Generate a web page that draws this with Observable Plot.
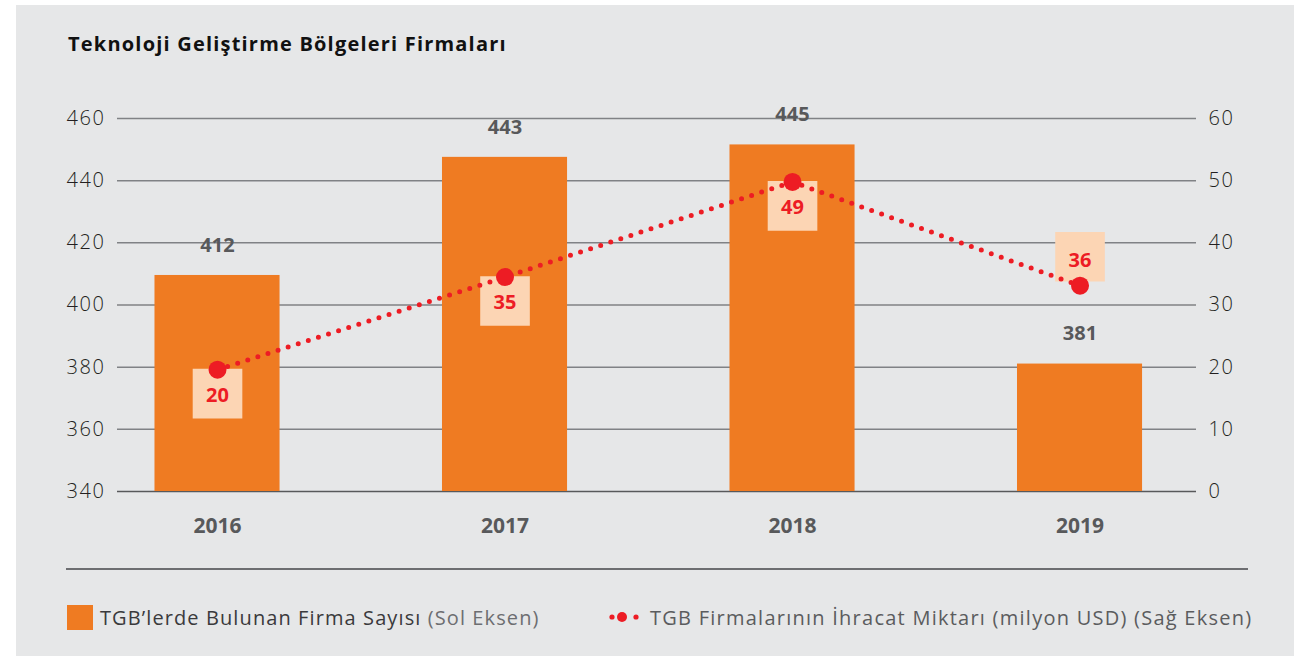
<!DOCTYPE html>
<html>
<head>
<meta charset="utf-8">
<script src="https://cdn.jsdelivr.net/npm/d3@7"></script>
<script src="https://cdn.jsdelivr.net/npm/@observablehq/plot@0.6"></script>
<style>
  html, body { margin: 0; padding: 0; background: #ffffff; width: 1294px; height: 657px; overflow: hidden; }
  body { position: relative; font-family: "Open Sans", "DejaVu Sans", sans-serif; }
  #panel { position: absolute; left: 16px; top: 5px; width: 1278px; height: 651px; background: #e6e7e8; }
  #title { position: absolute; left: 68px; top: 34px; font-size: 20px; line-height: 20px; font-weight: 700; color: #111111; white-space: nowrap; letter-spacing: 1.2px; }
  #chart { position: absolute; left: 0; top: 60px; }
  #sep { position: absolute; left: 66px; top: 568px; width: 1182px; height: 1.5px; background: #6d6e71; }
  .leg { position: absolute; top: 604px; height: 26px; display: flex; align-items: center; font-size: 20px; white-space: nowrap; letter-spacing: 1.1px; }
  .swatch { width: 26px; height: 25px; background: #ef7b22; margin-right: 7px; }
  .dark { color: #3a3a3c; }
  .grey { color: #6d6e71; }
  #chart g[aria-label="y-axis tick label"] text { letter-spacing: 1.6px; }
</style>
</head>
<body>
<div id="panel"></div>
<div id="title">Teknoloji Geliştirme Bölgeleri Firmaları</div>
<div id="chart"></div>
<div id="sep"></div>
<div class="leg" style="left:67px"><div class="swatch"></div><span class="dark">TGB’lerde Bulunan Firma Sayısı</span>&nbsp;<span class="grey">(Sol Eksen)</span></div>
<div class="leg" style="left:606px;letter-spacing:1.25px">
  <svg width="40" height="20" style="margin-right:4px"><circle cx="6" cy="10" r="2.6" fill="#ed1c24"/><circle cx="16" cy="10" r="5" fill="#ed1c24"/><circle cx="30" cy="10" r="2.6" fill="#ed1c24"/></svg>
  <span class="grey" style="color:#5b5c5e">TGB Firmalarının İhracat Miktarı (milyon USD) (Sağ Eksen)</span>
</div>
<script>
// ---- data ----
const years = ["2016", "2017", "2018", "2019"];
const firmCounts = [409.5, 447.5, 451.5, 381];      // bar heights as drawn (left axis)
const firmLabels = ["412", "443", "445", "381"];     // printed bar labels
const exportValues = [19.6, 34.5, 49.8, 33.1];      // dot positions as drawn (right axis, million USD)
const exportLabels = ["20", "35", "49", "36"];       // printed dot labels
const labelPlacement = ["below", "below", "below", "above"];
const leftTicks = [340, 360, 380, 400, 420, 440, 460];
const rightTicks = [0, 10, 20, 30, 40, 50, 60];

// right axis mapped onto the left scale
const lMin = leftTicks[0], lMax = leftTicks[leftTicks.length - 1];
const rMin = rightTicks[0], rMax = rightTicks[rightTicks.length - 1];
const toLeft = v => lMin + (v - rMin) * (lMax - lMin) / (rMax - rMin);
const toRight = v => rMin + (v - lMin) * (rMax - rMin) / (lMax - lMin);

const data = years.map((year, i) => ({
  year,
  firms: firmCounts[i],
  firmLabel: firmLabels[i],
  exp: toLeft(exportValues[i]),
  expLabel: exportLabels[i],
  place: labelPlacement[i]
}));
const below = data.filter(d => d.place === "below");
const above = data.filter(d => d.place === "above");

const ORANGE = "#ef7b22", RED = "#ed1c24", PEACH = "#fcd5b4", GREY = "#58595b";

const chart = Plot.plot({
  width: 1294,
  height: 480,
  marginTop: 58,
  marginBottom: 49,
  marginLeft: 117,
  marginRight: 98,
  style: { background: "transparent", fontFamily: "'Open Sans', 'DejaVu Sans', sans-serif", overflow: "visible" },
  x: { domain: years, paddingInner: 0.565, paddingOuter: 0.159, align: 0.41, round: false, axis: null },
  y: { domain: [lMin, lMax], axis: null },
  marks: [
    Plot.ruleY(leftTicks.slice(1), { stroke: "#808285", strokeWidth: 1.5 }),
    Plot.ruleY([lMin], { stroke: "#58595b", strokeWidth: 1.5 }),
    Plot.barY(data, { x: "year", y1: lMin, y2: "firms", fill: ORANGE }),
    Plot.text(data, { x: "year", y: "firms", text: "firmLabel", dy: -30, fontSize: 20, fontWeight: 700, fill: GREY }),
    Plot.dot(below, { x: "year", y: "exp", symbol: "square", r: 28, fill: PEACH, dy: 24 }),
    Plot.dot(above, { x: "year", y: "exp", symbol: "square", r: 28, fill: PEACH, dy: -29 }),
    Plot.line(data, { x: "year", y: "exp", stroke: RED, strokeWidth: 5, strokeDasharray: "0 10.6", strokeLinecap: "round" }),
    Plot.dot(data, { x: "year", y: "exp", r: 9, fill: RED }),
    Plot.text(below, { x: "year", y: "exp", text: "expLabel", dy: 26, fontSize: 20, fontWeight: 700, fill: RED }),
    Plot.text(above, { x: "year", y: "exp", text: "expLabel", dy: -25, fontSize: 20, fontWeight: 700, fill: RED }),
    Plot.axisY(leftTicks, { anchor: "left", tickSize: 0, tickPadding: 12, fontSize: 20, fontWeight: 300, fill: "#231f20" }),
    Plot.axisY(rightTicks.map(toLeft), { anchor: "right", tickSize: 0, tickPadding: 12, tickFormat: d => String(toRight(d)), fontSize: 20, fontWeight: 300, fill: "#231f20" }),
    Plot.axisX({ label: null, tickSize: 0, tickPadding: 27, fontSize: 21, fontWeight: 700, fill: GREY })
  ]
});
document.getElementById("chart").appendChild(chart);
</script>
</body>
</html>
